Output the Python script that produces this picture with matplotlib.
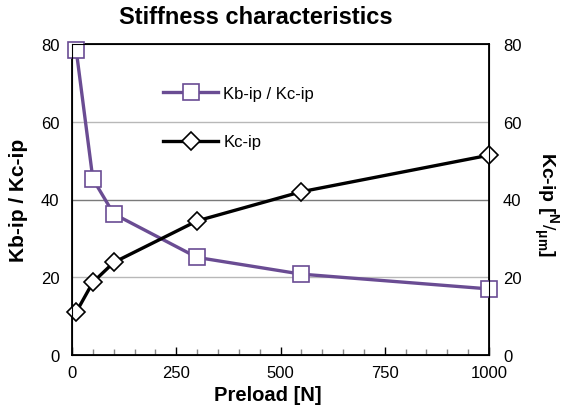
import matplotlib.pyplot as plt
from matplotlib.ticker import MultipleLocator

plt.rcParams['font.family'] = ['Liberation Sans', 'DejaVu Sans']
plt.rcParams['mathtext.fontset'] = 'custom'
plt.rcParams['mathtext.rm'] = 'Liberation Sans'
plt.rcParams['mathtext.bf'] = 'Liberation Sans:bold'

preload = [10, 50, 100, 300, 550, 1000]
ratio = [78.5, 45.3, 36.3, 25.1, 20.8, 17.0]
kc_ip = [11.0, 18.7, 23.8, 34.5, 42.0, 51.4]

purple = '#6a4c93'
W, H = 561, 414

fig = plt.figure(figsize=(W / 100, H / 100), dpi=100)
ax = fig.add_axes([72 / W, 58 / H, 417 / W, 311 / H])

# horizontal grid: middle line darker
for y, c in [(20, '#b8b8b8'), (40, '#7a7a7a'), (60, '#b8b8b8')]:
    ax.axhline(y, color=c, lw=1.0, zorder=0)

ax.plot(preload, ratio, color=purple, lw=2.4, marker='s', ms=11,
        mfc='white', mec=purple, mew=1.2, label='Kb-ip / Kc-ip', clip_on=False, zorder=3)
ax.plot(preload, kc_ip, color='black', lw=2.4, marker='D', ms=9,
        mfc='white', mec='black', mew=1.2, label='Kc-ip', clip_on=False, zorder=3)

ax.set_xlim(0, 1000)
ax.set_ylim(0, 80)
ax.set_xticks([0, 250, 500, 750, 1000])
ax.xaxis.set_minor_locator(MultipleLocator(50))
ax.set_yticks([0, 20, 40, 60, 80])
ax.tick_params(axis='x', direction='in', length=6, width=1, labelsize=12, pad=7)
ax.tick_params(axis='x', which='minor', direction='in', length=4, width=1, color='#888888')
ax.tick_params(axis='y', length=0, labelsize=12, pad=9)
for s in ax.spines.values():
    s.set_linewidth(1.3)

ax2 = ax.twinx()
ax2.set_ylim(0, 80)
ax2.set_yticks([0, 20, 40, 60, 80])
ax2.tick_params(axis='y', length=0, labelsize=12, pad=10)

fig.text(256 / W, 1 - 18 / H, 'Stiffness characteristics', fontsize=17,
         fontweight='bold', ha='center', va='center')
fig.text(268 / W, 1 - 396 / H, 'Preload [N]', fontsize=14.5,
         fontweight='bold', ha='center', va='center')
fig.text(19 / W, 1 - 200 / H, 'Kb-ip / Kc-ip', fontsize=15,
         fontweight='bold', ha='center', va='center', rotation=90)
fig.text(546 / W, 1 - 205 / H, r'Kc-ip [$^{\mathbf{N}}/_{\mathbf{\mu m}}$]', fontsize=14,
         fontweight='bold', ha='center', va='center', rotation=270)

ax.legend(loc='upper left', bbox_to_anchor=(0.183, 0.913), frameon=False,
          fontsize=12, handlelength=3.3, handletextpad=0.3, labelspacing=2.0)

fig.savefig('out.png', dpi=100)
